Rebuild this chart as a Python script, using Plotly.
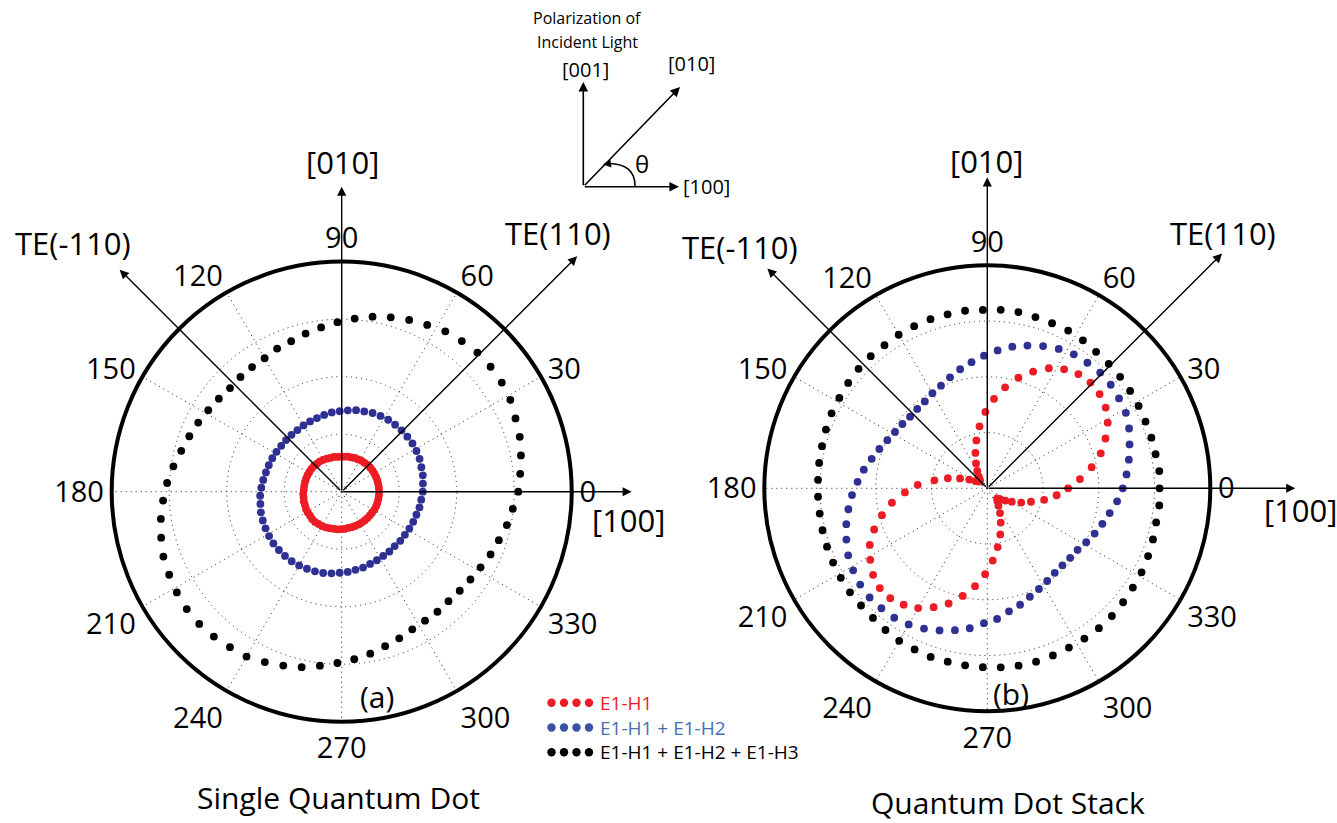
import plotly.graph_objects as go

W, H = 1337, 823
FONT = "Open Sans"

# Polarization angle theta (degrees) of each computed point
ANGLES = [0.0, 5.71, 11.43, 17.14, 22.86, 28.57, 34.29, 40.0, 45.71, 51.43,
          57.14, 62.86, 68.57, 74.29, 80.0, 85.71, 91.43, 97.14, 102.86, 108.57,
          114.29, 120.0, 125.71, 131.43, 137.14, 142.86, 148.57, 154.29, 160.0, 165.71,
          171.43, 177.14, 182.86, 188.57, 194.29, 200.0, 205.71, 211.43, 217.14, 222.86,
          228.57, 234.29, 240.0, 245.71, 251.43, 257.14, 262.86, 268.57, 274.29, 280.0,
          285.71, 291.43, 297.14, 302.86, 308.57, 314.29, 320.0, 325.71, 331.43, 337.14,
          342.86, 348.57, 354.29]

# (a) Single quantum dot: absorption (arb. units, one grid ring = 1)
SQD_E1H1 = [0.65, 0.65, 0.65, 0.65, 0.65, 0.65, 0.65, 0.65, 0.65, 0.64,
            0.64, 0.63, 0.63, 0.62, 0.62, 0.61, 0.61, 0.61, 0.62, 0.62,
            0.63, 0.64, 0.65, 0.65, 0.66, 0.66, 0.66, 0.66, 0.66, 0.66,
            0.66, 0.66, 0.67, 0.67, 0.68, 0.68, 0.69, 0.69, 0.69, 0.70,
            0.70, 0.69, 0.69, 0.68, 0.67, 0.66, 0.66, 0.65, 0.65, 0.64,
            0.64, 0.64, 0.64, 0.64, 0.64, 0.64, 0.64, 0.64, 0.65, 0.65,
            0.65, 0.65, 0.65]
SQD_E1H1_H2 = [1.41, 1.42, 1.44, 1.45, 1.47, 1.48, 1.49, 1.49, 1.49, 1.49,
               1.49, 1.48, 1.47, 1.45, 1.44, 1.42, 1.40, 1.39, 1.37, 1.35,
               1.34, 1.33, 1.32, 1.32, 1.32, 1.32, 1.33, 1.34, 1.35, 1.36,
               1.38, 1.40, 1.42, 1.43, 1.45, 1.46, 1.47, 1.48, 1.49, 1.49,
               1.49, 1.49, 1.48, 1.47, 1.46, 1.45, 1.43, 1.41, 1.40, 1.38,
               1.37, 1.35, 1.34, 1.33, 1.33, 1.32, 1.33, 1.33, 1.34, 1.35,
               1.36, 1.38, 1.39]
SQD_E1H1_H2_H3 = [3.07, 3.12, 3.18, 3.24, 3.28, 3.34, 3.37, 3.38, 3.38, 3.35,
                  3.32, 3.26, 3.21, 3.15, 3.09, 3.02, 2.95, 2.88, 2.82, 2.76,
                  2.73, 2.68, 2.67, 2.66, 2.65, 2.68, 2.72, 2.77, 2.82, 2.88,
                  2.96, 3.04, 3.11, 3.18, 3.24, 3.30, 3.33, 3.36, 3.38, 3.38,
                  3.36, 3.33, 3.31, 3.25, 3.19, 3.13, 3.05, 2.98, 2.92, 2.86,
                  2.79, 2.74, 2.69, 2.67, 2.67, 2.66, 2.68, 2.71, 2.75, 2.81,
                  2.86, 2.93, 2.99]

# (b) Quantum dot stack
QDS_E1H1 = [1.45, 1.67, 1.91, 2.13, 2.30, 2.46, 2.57, 2.63, 2.65, 2.62,
            2.54, 2.42, 2.25, 2.06, 1.84, 1.61, 1.37, 1.12, 0.88, 0.67,
            0.49, 0.36, 0.26, 0.20, 0.18, 0.21, 0.25, 0.36, 0.52, 0.73,
            0.96, 1.25, 1.48, 1.73, 1.95, 2.16, 2.34, 2.46, 2.57, 2.63,
            2.63, 2.57, 2.48, 2.34, 2.18, 1.98, 1.77, 1.54, 1.30, 1.07,
            0.86, 0.66, 0.50, 0.37, 0.29, 0.25, 0.30, 0.39, 0.50, 0.66,
            0.82, 1.04, 1.25]
QDS_E1H1_H2 = [2.43, 2.51, 2.59, 2.67, 2.76, 2.83, 2.86, 2.89, 2.90, 2.88,
               2.86, 2.81, 2.74, 2.66, 2.58, 2.48, 2.38, 2.28, 2.19, 2.10,
               2.02, 1.97, 1.92, 1.90, 1.89, 1.91, 1.94, 1.99, 2.06, 2.14,
               2.24, 2.33, 2.43, 2.52, 2.61, 2.69, 2.77, 2.82, 2.86, 2.88,
               2.87, 2.86, 2.82, 2.76, 2.69, 2.61, 2.53, 2.42, 2.35, 2.24,
               2.17, 2.09, 2.03, 1.98, 1.94, 1.93, 1.94, 1.96, 2.02, 2.09,
               2.16, 2.24, 2.34]
QDS_E1H1_H2_H3 = [3.09, 3.10, 3.08, 3.08, 3.08, 3.09, 3.10, 3.11, 3.12, 3.13,
                  3.16, 3.18, 3.18, 3.19, 3.21, 3.21, 3.20, 3.21, 3.20, 3.20,
                  3.19, 3.18, 3.16, 3.16, 3.15, 3.13, 3.11, 3.10, 3.08, 3.06,
                  3.05, 3.04, 3.04, 3.04, 3.05, 3.06, 3.07, 3.08, 3.09, 3.09,
                  3.10, 3.13, 3.16, 3.17, 3.19, 3.19, 3.20, 3.21, 3.22, 3.23,
                  3.23, 3.22, 3.21, 3.21, 3.21, 3.20, 3.18, 3.16, 3.15, 3.13,
                  3.11, 3.09, 3.10]

TICK_ANGLES = [0, 30, 60, 90, 120, 150, 180, 210, 240, 270, 300, 330]
RING_VALUES = [1, 2, 3]
R_MAX = 4

SERIES_NAMES = ["E1-H1", "E1-H1 + E1-H2", "E1-H1 + E1-H2 + E1-H3"]
RED, BLUE, BLACK = "#ED1C24", "#2E3192", "#000000"
LEGEND_DOT = ["#ED1C24", "#3A52A6", "#000000"]
LEGEND_TEXT = ["#ED1C24", "#4A6CB7", "#000000"]

# panel geometry (pixels): centre x, centre y, outer radius
PANELS = {
    "polar": dict(cx=341.7, cy=491.7, R=230.0),
    "polar2": dict(cx=987.3, cy=488.3, R=223.0),
}


def px(x, y):
    return x / W, 1 - y / H


def domain(cx, cy, R):
    return dict(x=[(cx - R) / W, (cx + R) / W], y=[1 - (cy + R) / H, 1 - (cy - R) / H])


fig = go.Figure()

panel_data = {
    "polar": [SQD_E1H1_H2_H3, SQD_E1H1_H2, SQD_E1H1],
    "polar2": [QDS_E1H1_H2_H3, QDS_E1H1_H2, QDS_E1H1],
}
colors = [BLACK, BLUE, RED]
names = SERIES_NAMES[::-1]
for sub, series in panel_data.items():
    for r, c, n in zip(series, colors, names):
        fig.add_trace(go.Scatterpolar(
            r=r, theta=ANGLES, mode="markers", name=n, subplot=sub,
            marker=dict(size=7.8, color=c, line=dict(width=0)),
            showlegend=False,
        ))

GRID_DASH = "1px,4px"
GRID_COLOR = "#222222"


def polar_layout(cx, cy, R):
    return dict(
        domain=domain(cx, cy, R),
        bgcolor="rgba(0,0,0,0)",
        radialaxis=dict(range=[0, R_MAX], tickvals=RING_VALUES, showticklabels=False,
                        ticks="", showline=False, gridcolor=GRID_COLOR,
                        griddash=GRID_DASH, gridwidth=1),
        angularaxis=dict(tickvals=TICK_ANGLES, ticktext=[str(a) for a in TICK_ANGLES],
                         direction="counterclockwise", rotation=0,
                         showline=True, linecolor="black", linewidth=4,
                         gridcolor=GRID_COLOR, griddash=GRID_DASH, gridwidth=1,
                         ticks="", tickfont=dict(size=29, color="black", family=FONT)),
    )


annotations = []
shapes = []


def text(x, y, s, size=31, color="black", xanchor="center", align="center"):
    ax_, ay_ = px(x, y)
    annotations.append(dict(x=ax_, y=ay_, xref="paper", yref="paper", text=s,
                            showarrow=False, xanchor=xanchor, yanchor="middle",
                            align=align,
                            font=dict(size=size, color=color, family=FONT)))


def arrow(x0, y0, x1, y1, width=1.4, size=1.3, head=2):
    ax_, ay_ = px(x1, y1)
    annotations.append(dict(x=ax_, y=ay_, xref="paper", yref="paper", text="",
                            showarrow=True, ax=x0 - x1, ay=y0 - y1,
                            axref="pixel", ayref="pixel", arrowhead=head,
                            arrowsize=size, arrowwidth=width, arrowcolor="black",
                            standoff=0, startstandoff=0))


# crystal-direction arrows drawn from each panel centre
ARROW_LEN = {
    "polar": {"x": 290, "y": 305, "d45": 333, "d135": 314},
    "polar2": {"x": 308, "y": 311, "d45": 332, "d135": 311},
}
DIAG = 0.70711
for sub, g in PANELS.items():
    cx, cy = g["cx"], g["cy"]
    L = ARROW_LEN[sub]
    arrow(cx, cy, cx + L["x"], cy)
    arrow(cx, cy, cx, cy - L["y"])
    arrow(cx, cy, cx + L["d45"] * DIAG, cy - L["d45"] * DIAG)
    arrow(cx, cy, cx - L["d135"] * DIAG, cy - L["d135"] * DIAG)

# direction labels
text(342, 162, "[010]")
text(628, 520, "[100]")
text(73, 243, "TE(-110)")
text(558, 233, "TE(110)")
text(377, 696, "(a)", size=30)
text(338, 797, "Single Quantum Dot", size=30)

text(987, 161, "[010]")
text(1300, 510, "[100]")
text(740, 247, "TE(-110)")
text(1223, 233, "TE(110)")
text(1011, 693, "(b)", size=30)
text(1008, 802, "Quantum Dot Stack", size=30)

# legend: one three-line block, a row of four dots per series
LEG_SIZE = 19
LEG_LINE = LEG_SIZE * 1.3
LEG_MID = 727.5
LEG_X0, LEG_DX = 551.5, 12.5
for i in range(len(SERIES_NAMES)):
    yrow = LEG_MID + (i - 1) * LEG_LINE
    for j in range(4):
        xc = LEG_X0 + j * LEG_DX
        x0, y0 = px(xc - 4.2, yrow + 4.2)
        x1, y1 = px(xc + 4.2, yrow - 4.2)
        shapes.append(dict(type="circle", xref="paper", yref="paper", x0=x0, y0=y0,
                           x1=x1, y1=y1, fillcolor=LEGEND_DOT[i], line=dict(width=0)))
legend_block = "<br>".join(
    f"<span style='color:{c}'>{n}</span>" for n, c in zip(SERIES_NAMES, LEGEND_TEXT)
)
text(598, LEG_MID, legend_block, size=LEG_SIZE, xanchor="left", align="left")

# inset: polarization of the incident light
text(587, 18, "Polarization of", size=16)
text(587, 42, "Incident Light", size=16)
text(585, 69, "[001]", size=20)
text(691, 64, "[010]", size=20)
text(706, 186, "[100]", size=20)
text(642, 163, "θ", size=24)
ox, oy = 583.3, 186.7
arrow(ox, oy, ox, 82, width=1.6, size=1.2)
arrow(ox, oy, 679, oy, width=1.6, size=1.2)
arrow(ox, oy, 680, 87, width=1.6, size=1.2)
p0, pc, p1 = px(635, 186), px(635, 164), px(609, 163.5)
shapes.append(dict(type="path", xref="paper", yref="paper",
                   path=f"M {p0[0]},{p0[1]} Q {pc[0]},{pc[1]} {p1[0]},{p1[1]}",
                   line=dict(color="black", width=1.6)))
arrow(612, 163.3, 603, 164.5, width=1.6, size=1.0)

fig.update_layout(
    width=W, height=H,
    margin=dict(l=0, r=0, t=0, b=0),
    paper_bgcolor="white",
    font=dict(family=FONT, color="black"),
    polar=polar_layout(**PANELS["polar"]),
    polar2=polar_layout(**PANELS["polar2"]),
    annotations=annotations,
    shapes=shapes,
    showlegend=False,
)

fig.write_html("out.html")
